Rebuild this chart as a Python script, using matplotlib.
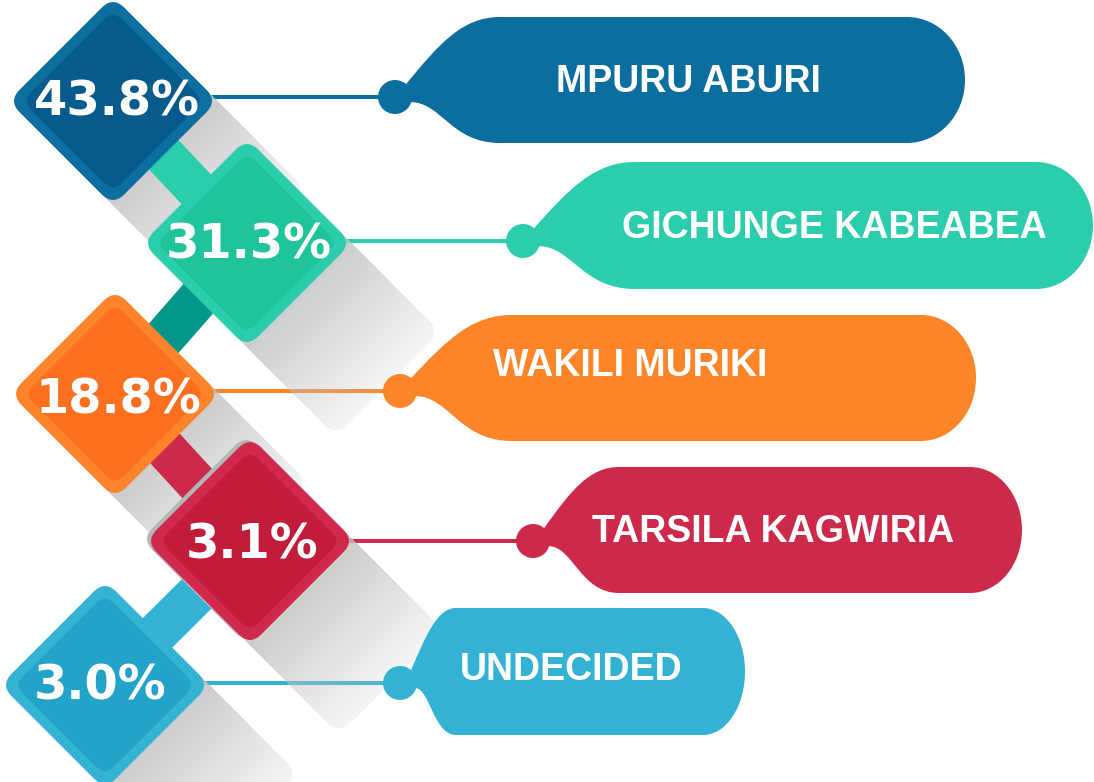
"""
Candidate popularity infographic: stacked diamonds with tag-shaped name bubbles.
"""

import numpy as np
import matplotlib.pyplot as plt
from matplotlib.patches import FancyBboxPatch, PathPatch, Circle
from matplotlib.path import Path
from matplotlib.transforms import Affine2D


# ============================================
# Data
# ============================================

names  = ["MPURU ABURI", "GICHUNGE KABEABEA", "WAKILI MURIKI",
          "TARSILA KAGWIRIA", "UNDECIDED"]
shares = [43.8, 31.3, 18.8, 3.1, 3.0]

# ============================================
# Styles / layout (pixel coordinates, y down)
# ============================================

W, H = 1094, 782

outer_colors  = ["#0C6FA0", "#2BCDAC", "#FE8429", "#CF2A4C", "#34B3D4"]
inner_colors  = ["#075B8C", "#1FC49B", "#FC6F1E", "#C11D3B", "#24A3C9"]
bubble_colors = ["#0B6E9E", "#2BCDAC", "#FE8428", "#CD2A4B", "#33B2D3"]
link_colors   = ["#2BCDAC", "#00968A", "#CD2A4B", "#33B2D3"]

diamond_x = [113, 247, 115, 250, 105]
diamond_y = [101, 243, 394, 541, 685]
pct_x     = [117, 249, 118, 252, 100]
pct_y     = [98, 241, 396, 541, 682]

bubble_cx    = [395, 523, 400, 533, 400]
bubble_cy    = [97, 241, 391, 541, 683]
bubble_top   = [17, 162, 315, 467, 608]
bubble_bot   = [143, 289, 441, 593, 735]
bubble_right = [965, 1093, 976, 1022, 745]
neck         = [105, 112, 112, 86, 56]
cap          = [58, 57, 55, 52, 42]
name_x       = [688, 834, 630, 773, 571]
name_y       = [78, 225, 362, 528, 667]

OUTER_SIDE, OUTER_R = 148, 16
INNER_SIDE, INNER_R = 128, 12
DOT_R      = 17
SHADOW_END = 200      # distance from diamond centre along the diagonal
SHADOW_RC  = 16       # rounding of the shadow's far corners


# ============================================
# Helpers
# ============================================

def add_diamond(ax, cx, cy, side, rad, color, z):
    p = FancyBboxPatch((-side / 2, -side / 2), side, side,
                       boxstyle=f"round,pad=0,rounding_size={rad}",
                       fc=color, ec="none", zorder=z)
    p.set_transform(Affine2D().rotate_deg(45).translate(cx, cy) + ax.transData)
    ax.add_patch(p)


def bubble_path(cx, cy, top, bot, right, nk, a, r=DOT_R):
    k = 0.5523
    b = (bot - top) / 2
    mid = (top + bot) / 2
    x0, y0 = cx + 0.65 * r, cy - 0.75 * r
    x3 = cx + nk
    dx, dy = x3 - x0, y0 - top
    bx0, by0 = cx + 0.9 * r, cy + 0.3 * r
    dxb = x3 - bx0
    verts = [
        (x0, y0),
        (x0 + 0.35 * dx, y0 - 0.6 * dy), (x3 - 0.4 * dx, top), (x3, top),
        (right - a, top),
        (right - a + k * a, top), (right, mid - k * b), (right, mid),
        (right, mid + k * b), (right - a + k * a, bot), (right - a, bot),
        (x3, bot),
        (x3 - 0.55 * dxb, bot), (bx0 + 0.35 * dxb, by0), (bx0, by0),
        (x0, y0),
    ]
    codes = ([Path.MOVETO] + [Path.CURVE4] * 3 + [Path.LINETO]
             + [Path.CURVE4] * 6 + [Path.LINETO] + [Path.CURVE4] * 3
             + [Path.CLOSEPOLY])
    return Path(verts, codes)


# ============================================
# Figure
# ============================================

fig = plt.figure(figsize=(W / 100, H / 100), dpi=100)
ax = fig.add_axes([0, 0, 1, 1])
ax.set_xlim(0, W)
ax.set_ylim(H, 0)
ax.set_aspect("equal")
ax.axis("off")

# long soft shadows running down-right from each diamond
yy, xx = np.mgrid[0:H, 0:W] + 0.5
half = OUTER_SIDE / 2
alpha = np.zeros((H, W))
for cx, cy in zip(diamond_x, diamond_y):
    t = ((xx - cx) + (yy - cy)) / np.sqrt(2)
    u = np.abs((xx - cx) - (yy - cy)) / np.sqrt(2)
    inside = (u <= half) & (t >= 0) & (t <= SHADOW_END)
    corner = ((t > SHADOW_END - SHADOW_RC) & (u > half - SHADOW_RC) &
              ((t - SHADOW_END + SHADOW_RC) ** 2 + (u - half + SHADOW_RC) ** 2
               > SHADOW_RC ** 2))
    inside &= ~corner
    frac = np.clip((t - half) / (SHADOW_END - half), 0, 1)
    a = (0.8 - 0.65 * frac) * inside
    alpha = np.maximum(alpha, a)
rgba = np.zeros((H, W, 4))
rgba[..., :3] = 0.76
rgba[..., 3] = alpha

# leader lines sit under the shadows
for i in range(len(names)):
    ax.plot([diamond_x[i] + 90, bubble_cx[i]], [bubble_cy[i]] * 2,
            color=bubble_colors[i], lw=2.9, solid_capstyle="butt", zorder=0.5)

ax.imshow(rgba, extent=(0, W, H, 0), origin="upper", zorder=1,
          interpolation="bilinear")

# connectors between diamonds
for i, c in enumerate(link_colors):
    ax.plot([diamond_x[i], diamond_x[i + 1]], [diamond_y[i], diamond_y[i + 1]],
            color=c, lw=30, solid_capstyle="butt", zorder=1.5)

# bubbles
for i in range(len(names)):
    path = bubble_path(bubble_cx[i], bubble_cy[i], bubble_top[i], bubble_bot[i],
                       bubble_right[i], neck[i], cap[i])
    ax.add_patch(PathPatch(path, fc=bubble_colors[i], ec="none", zorder=2))
    ax.add_patch(Circle((bubble_cx[i], bubble_cy[i]), DOT_R,
                        fc=bubble_colors[i], ec="none", zorder=2))
    ax.text(name_x[i], name_y[i] + 13.5, names[i], color="white",
            fontfamily="Liberation Sans", fontweight="bold", fontsize=27,
            ha="center", va="baseline", zorder=5)

# faint grey rim behind the red diamond
add_diamond(ax, diamond_x[3] - 4, diamond_y[3] - 2, OUTER_SIDE, OUTER_R,
            "#B5B5B5", 2.5)

# diamonds with percentages
for i, v in enumerate(shares):
    add_diamond(ax, diamond_x[i], diamond_y[i], OUTER_SIDE, OUTER_R,
                outer_colors[i], 3)
    add_diamond(ax, diamond_x[i], diamond_y[i], INNER_SIDE, INNER_R,
                inner_colors[i], 3.5)
    ax.text(pct_x[i], pct_y[i] + 17.5, f"{v:.1f}%", color="white",
            fontfamily="DejaVu Sans", fontweight="bold", fontsize=34.5,
            ha="center", va="baseline", zorder=6)

fig.savefig("out.png", dpi=100)
plt.close(fig)
